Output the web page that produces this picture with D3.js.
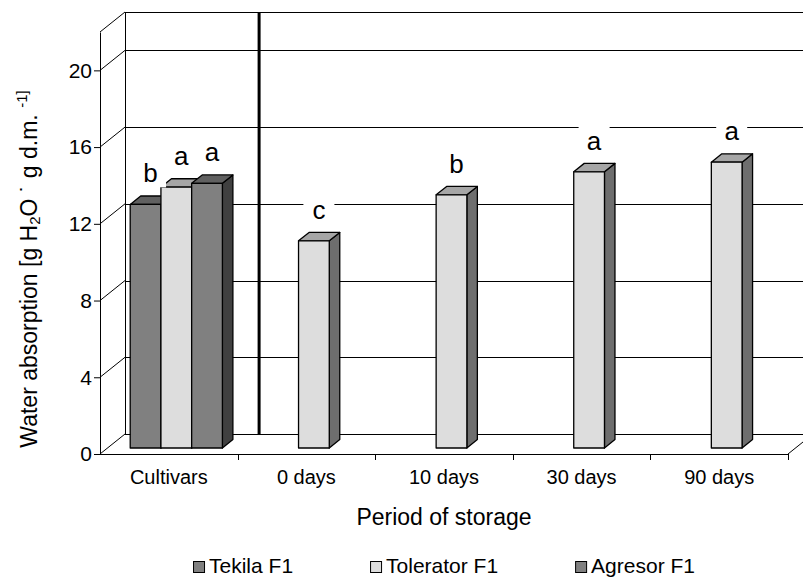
<!DOCTYPE html>
<html>
<head>
<meta charset="utf-8">
<script src="https://cdn.jsdelivr.net/npm/d3@7"></script>
<style>
  html, body { margin: 0; padding: 0; background: #fff; }
  svg { display: block; font-family: "Liberation Sans", Arial, sans-serif; }
</style>
</head>
<body>
<svg id="chart" width="803" height="577"></svg>
<script>
// Categories along the x axis
const categories = ["Cultivars", "0 days", "10 days", "30 days", "90 days"];
// Series names (legend order)
const seriesNames = ["Tekila F1", "Tolerator F1", "Agresor F1"];
// Water absorption per series, one value per category (null = no bar)
const tekilaValues    = [12.7, null, null, null, null];
const toleratorValues = [13.6, 10.8, 13.2, 14.4, 14.9];
const agresorValues   = [13.8, null, null, null, null];
// Significance letters written above the bars
const tekilaLetters    = ["b", null, null, null, null];
const toleratorLetters = ["a", "c", "b", "a", "a"];
const agresorLetters   = ["a", null, null, null, null];
// Value axis
const yTicks = [0, 4, 8, 12, 16, 20];
const yMax = 22;

const seriesValues = [tekilaValues, toleratorValues, agresorValues];
const seriesLetters = [tekilaLetters, toleratorLetters, agresorLetters];
const seriesColors = [
  { front: "#808080", top: "#606060", side: "#404040" },
  { front: "#dddddd", top: "#a6a6a6", side: "#6e6e6e" },
  { front: "#808080", top: "#606060", side: "#404040" }
];

const svg = d3.select("#chart");
const FONT = "'Liberation Sans', Arial, sans-serif";

// Plot frame (front plane) and 3-D depth of the walls
const pL = 100, pR = 788, pB = 454, pT = 32;
const DX = 25, DY = 20;

const x = d3.scaleBand().domain(categories).range([pL, pR]).padding(0);
const y = d3.scaleLinear().domain([0, yMax]).range([pB, pT]);
const bw = x.bandwidth();
const inner = d3.scaleBand().domain(seriesNames).range([bw * 0.165, bw * 0.835]).padding(0);

// Depth position of the bars inside the box (fractions of wall depth)
const dFront = 0.3, dBack = 0.72;
const bdx = DX * dFront, bdy = DY * dFront;                    // shift of the bar front face
const sdx = DX * (dBack - dFront), sdy = DY * (dBack - dFront); // bar thickness

const walls = svg.append("g").attr("stroke", "#000").attr("stroke-width", 1)
  .attr("fill", "none").attr("shape-rendering", "crispEdges");

// Back wall: gridlines, top edge and floor edge
const backLevels = yTicks.filter(t => t > 0).concat([yMax]);
walls.selectAll("line.grid").data(backLevels).join("line")
  .attr("class", "grid")
  .attr("x1", pL + DX).attr("x2", pR + DX)
  .attr("y1", d => Math.round(y(d) - DY) + 0.5).attr("y2", d => Math.round(y(d) - DY) + 0.5);
walls.append("line")
  .attr("x1", pL + DX).attr("x2", pR + DX)
  .attr("y1", Math.round(y(0) - DY) + 0.5).attr("y2", Math.round(y(0) - DY) + 0.5);
walls.append("line")
  .attr("x1", pL + DX + 0.5).attr("x2", pL + DX + 0.5)
  .attr("y1", y(0) - DY).attr("y2", y(yMax) - DY);

// Side wall diagonals and right floor edge
const wallDiag = svg.append("g").attr("stroke", "#000").attr("stroke-width", 1);
wallDiag.selectAll("line").data(yTicks.concat([yMax])).join("line")
  .attr("x1", pL).attr("y1", d => y(d))
  .attr("x2", pL + DX).attr("y2", d => y(d) - DY);
wallDiag.append("line")
  .attr("x1", pR).attr("y1", y(0)).attr("x2", pR + DX).attr("y2", y(0) - DY);

// Heavy divider between cultivars and storage periods
svg.append("line")
  .attr("x1", x("0 days") + DX * 0.86).attr("x2", x("0 days") + DX * 0.86)
  .attr("y1", y(yMax) - DY).attr("y2", y(0) - DY)
  .attr("stroke", "#000").attr("stroke-width", 3);

// Front value axis
const yAxis = svg.append("g")
  .attr("transform", `translate(${pL},0)`)
  .call(d3.axisLeft(y).tickValues(yTicks).tickFormat(d3.format("d")).tickSize(6).tickSizeOuter(0).tickPadding(2));
yAxis.select(".domain").attr("stroke", "#000");
yAxis.selectAll(".tick line").attr("stroke", "#000");
yAxis.selectAll("text").attr("font-size", 21).attr("font-family", FONT).attr("fill", "#000");

// Front category axis (labels at band centres, ticks at band edges)
const xAxis = svg.append("g")
  .attr("transform", `translate(0,${pB})`)
  .call(d3.axisBottom(x).tickSize(0).tickPadding(16));
xAxis.select(".domain").attr("stroke", "#000").attr("d", `M${pL},0.5H${pR}`);
xAxis.selectAll("text").attr("font-size", 20).attr("font-family", FONT).attr("fill", "#000");
const edgeTicks = categories.slice(1).map(c => x(c)).concat([pR]);
svg.append("g").selectAll("line").data(edgeTicks).join("line")
  .attr("x1", d => Math.round(d) + 0.5).attr("x2", d => Math.round(d) + 0.5)
  .attr("y1", pB).attr("y2", pB + 6)
  .attr("stroke", "#000");

// Bars as 3-D boxes
const bars = [];
seriesNames.forEach((s, si) => {
  categories.forEach((c, ci) => {
    const v = seriesValues[si][ci];
    if (v === null) return;
    bars.push({ s, si, c, v, letter: seriesLetters[si][ci] });
  });
});
const base = y(0) - bdy;
const barG = svg.append("g").attr("stroke", "#000").attr("stroke-width", 1.3).attr("stroke-linejoin", "round");
bars.forEach(b => {
  const x0 = x(b.c) + inner(b.s) + bdx;
  const w = inner.bandwidth();
  const yTopFace = y(b.v) - bdy;
  const col = seriesColors[b.si];
  const g = barG.append("g");
  g.append("path").attr("fill", col.side)
    .attr("d", `M${x0 + w},${yTopFace}L${x0 + w + sdx},${yTopFace - sdy}L${x0 + w + sdx},${base - sdy}L${x0 + w},${base}Z`);
  g.append("path").attr("fill", col.top)
    .attr("d", `M${x0},${yTopFace}L${x0 + sdx},${yTopFace - sdy}L${x0 + w + sdx},${yTopFace - sdy}L${x0 + w},${yTopFace}Z`);
  g.append("rect").attr("fill", col.front)
    .attr("x", x0).attr("y", yTopFace).attr("width", w).attr("height", base - yTopFace);
});

// Significance letters with white backing
const labG = svg.append("g");
bars.filter(b => b.letter).forEach(b => {
  const cx = x(b.c) + inner(b.s) + bdx + inner.bandwidth() / 2 + 5;
  const by = y(b.v) - bdy - 22;
  labG.append("rect").attr("x", cx - 15.5).attr("y", by - 28).attr("width", 31).attr("height", 33).attr("fill", "#fff");
  labG.append("text").attr("x", cx).attr("y", by).attr("text-anchor", "middle")
    .attr("font-size", 26).attr("font-family", FONT).attr("fill", "#000").text(b.letter);
});

// Axis titles
svg.append("text").attr("x", (pL + pR) / 2).attr("y", 525).attr("text-anchor", "middle")
  .attr("font-size", 23).attr("font-family", FONT).attr("fill", "#000").text("Period of storage");

const yTitle = svg.append("text")
  .attr("transform", "translate(37,269) rotate(-90)")
  .attr("text-anchor", "middle").attr("font-size", 23).attr("font-family", FONT).attr("fill", "#000");
yTitle.append("tspan").text("Water absorption [g H");
yTitle.append("tspan").attr("font-size", 15).attr("dy", 3).text("2");
yTitle.append("tspan").attr("dy", -3).text("O \u02D9 g d.m. ");
yTitle.append("tspan").attr("font-size", 15).attr("dy", -10).text("-1]");

// Legend
const legend = svg.append("g");
let lx = 0;
seriesNames.forEach((s, i) => {
  const g = legend.append("g").attr("transform", `translate(${lx},0)`);
  g.append("rect").attr("x", 0.5).attr("y", -11.5).attr("width", 11).attr("height", 11)
    .attr("fill", seriesColors[i].front).attr("stroke", "#000").attr("stroke-width", 1);
  const t = g.append("text").attr("x", 16).attr("y", 0).attr("font-size", 21)
    .attr("font-family", FONT).attr("fill", "#000").text(s);
  const tw = t.node().getComputedTextLength();
  lx += 16 + tw + (i < seriesNames.length - 1 ? 77 : 0);
});
legend.attr("transform", `translate(${(pL + pR) / 2 - lx / 2},573)`);
</script>
</body>
</html>
